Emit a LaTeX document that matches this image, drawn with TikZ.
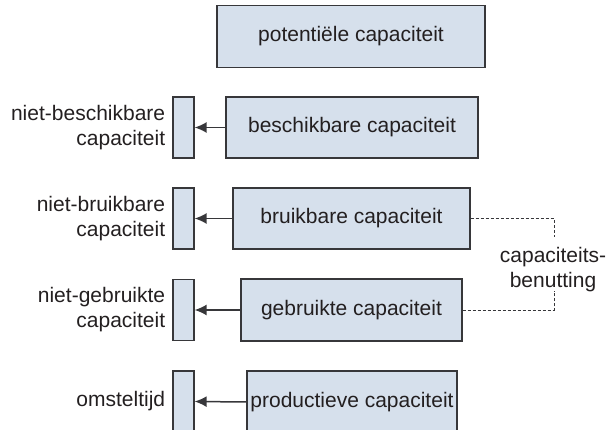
\documentclass[tikz,border=0pt]{standalone}
\usepackage{fontspec}
\setmainfont{Liberation Sans}
\usepackage{xcolor}
\usetikzlibrary{positioning,arrows.meta}

\definecolor{boxfill}{RGB}{214,224,236}
\definecolor{boxline}{RGB}{55,55,58}
\definecolor{txt}{RGB}{35,31,32}

\begin{document}
\begin{tikzpicture}[x=1pt,y=-1pt,
    font=\fontsize{21}{25}\selectfont, text=txt,
    box/.style={rectangle, draw=boxline, line width=1.3pt, fill=boxfill, minimum height=62pt, inner sep=0pt},
    slot/.style={rectangle, draw=boxline, line width=1.3pt, fill=boxfill, minimum width=21pt, minimum height=61pt, inner sep=0pt},
    side/.style={align=right, inner sep=0pt},
    arrow/.style={-{Latex[length=12pt,width=11pt]}, draw=boxline, fill=boxline, line width=1.5pt},
    dashline/.style={draw=boxline, line width=0.9pt, dash pattern=on 3pt off 2pt}
]
\useasboundingbox (0,0) rectangle (608,430);
\clip (0,0) rectangle (608,430);

\node[box, minimum width=268pt] (potent) at (351,36.5) {potentiële capaciteit};
\node[box, minimum width=252pt, minimum height=61pt] (beschik) at (352,127.5) {beschikbare capaciteit};
\node[box, minimum width=237pt, minimum height=61pt] (bruik) at (351.5,218.5) {bruikbare capaciteit};
\node[box, minimum width=221pt] (gebruikt) at (351.5,310) {gebruikte capaciteit};
\node[box, minimum width=210pt] (product) at (352,402) {productieve capaciteit};

% restcapaciteit links
\node[slot] (nbeschik) at (183.5,127.5) {};
\node[slot] (nbruik) at (183.5,218.5) {};
\node[slot] (ngebruikt) at (183.5,310) {};
\node[slot] (omstel) at (183.5,401.5) {};

\node[side, left=7pt of nbeschik] (lbeschik) {niet-beschikbare\\capaciteit};
\node[side, left=7pt of nbruik] (lbruik) {niet-bruikbare\\capaciteit};
\node[side, left=7pt of ngebruikt] (lgebruikt) {niet-gebruikte\\capaciteit};
\node[side, left=7pt of omstel] (lomstel) {omsteltijd};

\draw[arrow] (beschik) -- (nbeschik);
\draw[arrow] (bruik) -- (nbruik);
\draw[arrow] (gebruikt) -- (ngebruikt);
\draw[arrow] (product.west) -- (omstel.east);

% benutting
\node[align=center, inner sep=0pt] (benut) at (553,270) {capaciteits-\\benutting};
\coordinate (benuttop) at (554,237);
\coordinate (benutbot) at (554,291);
\draw[dashline] (bruik.east) -| (benuttop);
\draw[dashline] (gebruikt.east) -| (benutbot);

\end{tikzpicture}
\end{document}
